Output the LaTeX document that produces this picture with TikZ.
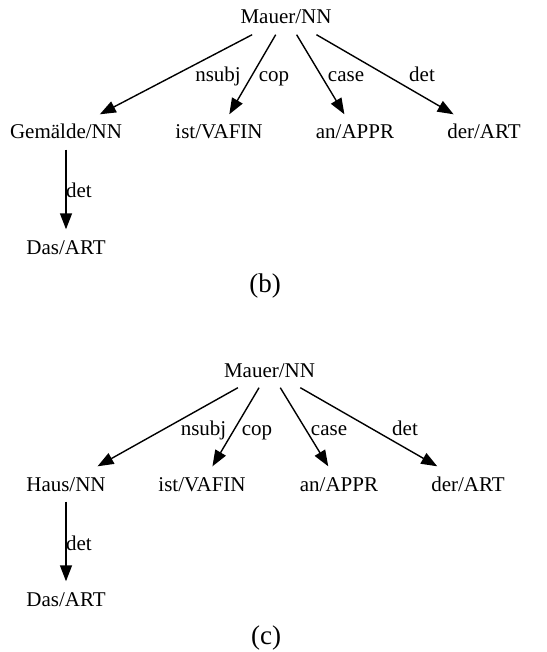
\documentclass[tikz,border=0pt]{standalone}
\usepackage{fontspec}
\setmainfont{Liberation Serif}
\usetikzlibrary{arrows.meta}
\begin{document}
\begin{tikzpicture}[x=1pt,y=-1pt,
  word/.style={inner sep=0pt, minimum height=35pt, text height=14pt, text depth=0pt, font=\fontsize{21}{25}\selectfont},
  lab/.style={inner sep=0pt, anchor=base, font=\fontsize{21}{25}\selectfont},
  captext/.style={inner sep=0pt, anchor=base, font=\fontsize{27}{32}\selectfont},
  dep/.style={line width=1.4pt, -{Triangle[length=16pt,width=12pt]}}]
\useasboundingbox (0,0) rectangle (546,652);
% tree (b)
\node[word] (m1) at (286,17) {Mauer/NN};
\node[word] (g1) at (66,132) {Gemälde/NN};
\node[word] (i1) at (219,132) {ist/VAFIN};
\node[word] (a1) at (355,132) {an/APPR};
\node[word] (d1) at (484,132) {der/ART};
\node[word] (s1) at (66,247) {Das/ART};
\draw[dep] (m1) -- (g1);
\draw[dep] (m1) -- (i1);
\draw[dep] (m1) -- (a1);
\draw[dep] (m1) -- (d1);
\draw[dep] (g1) -- (s1);
\node[lab] (l1a) at (218,82) {nsubj};
\node[lab] (l1b) at (274,82) {cop};
\node[lab] (l1c) at (346,82) {case};
\node[lab] (l1d) at (422,82) {det};
\node[lab] (l1e) at (79,197) {det};
\node[captext] (cb) at (265,292) {(b)};
% tree (c)
\node[word] (m2) at (269.5,370) {Mauer/NN};
\node[word] (g2) at (66,484) {Haus/NN};
\node[word] (i2) at (202,484) {ist/VAFIN};
\node[word] (a2) at (339,484) {an/APPR};
\node[word] (d2) at (468,484) {der/ART};
\node[word] (s2) at (66,599) {Das/ART};
\draw[dep] (m2) -- (g2);
\draw[dep] (m2) -- (i2);
\draw[dep] (m2) -- (a2);
\draw[dep] (m2) -- (d2);
\draw[dep] (g2) -- (s2);
\node[lab] (l2a) at (203.5,435) {nsubj};
\node[lab] (l2b) at (257,435) {cop};
\node[lab] (l2c) at (329,435) {case};
\node[lab] (l2d) at (405,435) {det};
\node[lab] (l2e) at (79,550) {det};
\node[captext] (cc) at (266,644) {(c)};
\end{tikzpicture}
\end{document}
